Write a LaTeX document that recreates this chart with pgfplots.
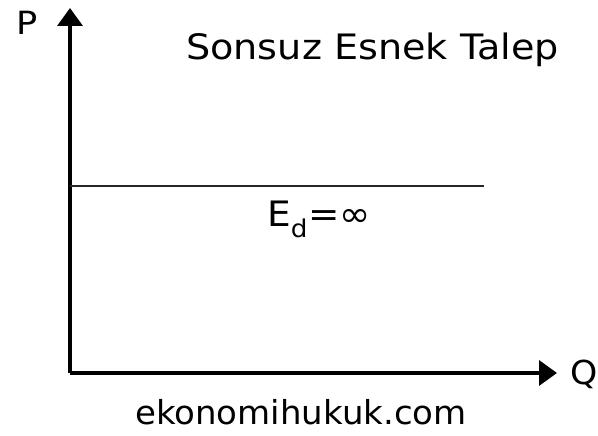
\documentclass[border=0pt]{standalone}
\usepackage{pgfplots}
\pgfplotsset{compat=1.18}
\usetikzlibrary{arrows.meta}
\usepackage{fontspec}
\setmainfont{DejaVu Sans}
\begin{document}
\begin{tikzpicture}
\begin{axis}[
  x=1pt, y=1pt,
  xmin=70, xmax=557, ymin=63, ymax=428,
  axis lines=left,
  axis line style={line width=3.5pt, -{Triangle[length=18pt,width=25pt]}},
  xtick=\empty, ytick=\empty,
  clip=false,
]
\path (axis cs:0,0) rectangle (axis cs:598,436);
\addplot[black!85, line width=2.5pt] coordinates {(70,250) (484,250)};
\node[anchor=base west, xscale=1.09, font=\fontsize{35}{38}\selectfont, inner sep=0pt] at (axis cs:186,376) {Sonsuz Esnek Talep};
\node[anchor=base, xscale=1.1, font=\fontsize{32}{36}\selectfont, inner sep=0pt] at (axis cs:27,401) {P};
\node[anchor=base, xscale=1.05, font=\fontsize{33}{36}\selectfont, inner sep=0pt] at (axis cs:584,51) {Q};
\node[anchor=base west, xscale=1.07, font=\fontsize{35}{38}\selectfont, inner sep=0pt] at (axis cs:267,209) {E\textsubscript{d}=∞};
\node[anchor=base west, xscale=1.03, font=\fontsize{33}{36}\selectfont, inner sep=0pt] at (axis cs:135,11) {ekonomihukuk.com};
\end{axis}
\end{tikzpicture}
\end{document}
